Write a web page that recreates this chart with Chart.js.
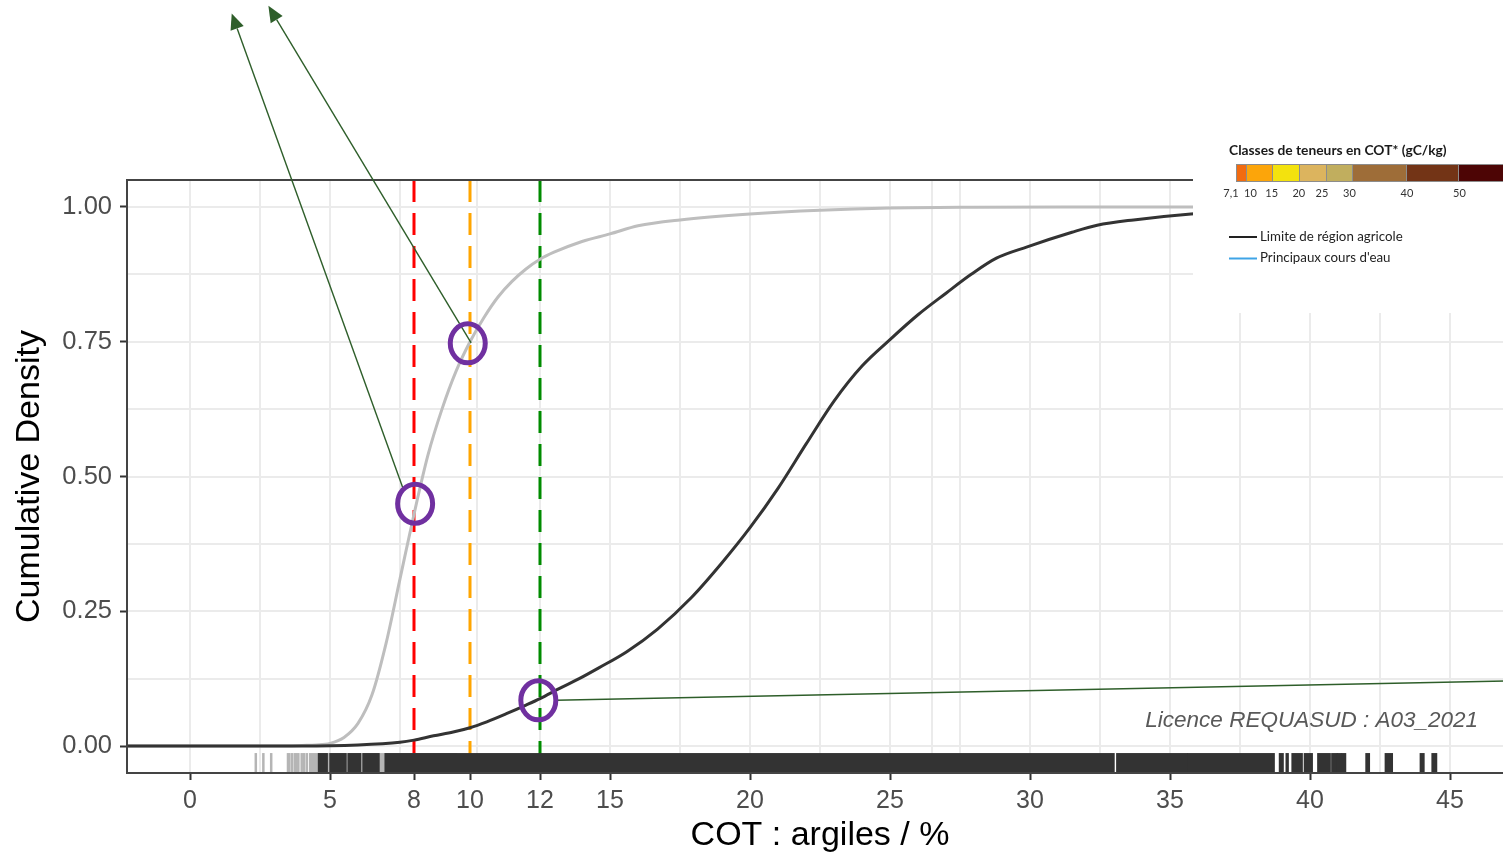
<!DOCTYPE html>
<html>
<head>
<meta charset="utf-8">
<title>COT : argiles / %</title>
<script src="https://cdn.jsdelivr.net/npm/chart.js@4.4.1/dist/chart.umd.min.js"></script>
<style>
  html, body { margin: 0; padding: 0; overflow: hidden; background: #fff; }
  #wrap { position: relative; width: 1530px; height: 858px; }
</style>
</head>
<body>
<div id="wrap"><canvas id="myChart"></canvas></div>
<script>
// axes
const xTickValues = [0, 5, 8, 10, 12.5, 15, 20, 25, 30, 35, 40, 45];
const xTickLabels = ['0', '5', '8', '10', '12', '15', '20', '25', '30', '35', '40', '45'];
const yTickValues = [0, 0.25, 0.5, 0.75, 1];
const yTickLabels = ['0.00', '0.25', '0.50', '0.75', '1.00'];
const gridX = [0, 2.5, 5, 7.5, 10.25, 12.5, 15, 17.5, 20, 22.5, 25, 26.5, 27.5, 30, 32.5, 35, 37.5, 40, 42.5, 45];
const gridY = [0, 0.125, 0.25, 0.375, 0.5, 0.625, 0.75, 0.875, 1];

// ecdf, light grey series
const greyX = [-2.25, 3.5, 4.0, 4.5, 5.0, 5.5, 6.0, 6.5, 7.0, 7.5, 8.0, 8.5, 9.0, 9.5, 10.0, 10.5, 11.0, 11.5, 12.0, 12.5, 13.0, 14.0, 15.0, 16.0, 17.5, 20.0, 22.5, 25.0, 28.0, 32.0, 47.25];
const greyY = [0, 0, 0.001, 0.002, 0.005, 0.016, 0.042, 0.095, 0.19, 0.31, 0.43, 0.54, 0.625, 0.695, 0.75, 0.795, 0.833, 0.862, 0.885, 0.903, 0.916, 0.936, 0.95, 0.965, 0.976, 0.987, 0.994, 0.998, 0.9995, 1, 1];

// ecdf, dark series
const blackX = [-2.25, 4.0, 6.0, 7.5, 8.0, 8.7, 9.4, 10.0, 10.6, 11.3, 12.0, 12.5, 13.2, 13.9, 14.6, 15.6, 16.7, 17.9, 19.0, 20.0, 21.0, 22.0, 23.0, 24.0, 25.0, 26.0, 27.0, 27.9, 28.8, 29.9, 31.5, 32.4, 33.7, 35.75, 38.0, 40.0, 44.5, 47.25];
const blackY = [0, 0, 0.002, 0.007, 0.011, 0.019, 0.026, 0.034, 0.045, 0.06, 0.076, 0.088, 0.107, 0.125, 0.145, 0.175, 0.217, 0.275, 0.34, 0.405, 0.478, 0.56, 0.64, 0.705, 0.754, 0.8, 0.84, 0.875, 0.905, 0.926, 0.953, 0.966, 0.976, 0.987, 0.994, 0.997, 1, 1];

// vertical thresholds (green one sits at 12.5 on the picture, labelled 12)
const thresholdX = [8, 10, 12.5];
const thresholdColors = ['#FF0000', '#FFA500', '#008B00'];

// rug, as [from, to] runs of observations
const rugGreySpans = [[2.35, 2.35], [2.62, 2.62], [2.9, 2.9], [3.5, 3.55], [3.65, 3.65], [3.75, 3.8], [3.87, 3.87], [3.99, 3.99], [4.07, 4.07], [4.17, 4.17], [4.29, 9.5]];
const rugBlackSpans = [[4.61, 4.88], [5.02, 5.55], [5.67, 6.07], [6.2, 6.73], [6.99, 32.98], [33.12, 35.6], [35.66, 38.7], [38.93, 39.02], [39.17, 39.2], [39.38, 39.7], [39.82, 40.06], [40.3, 40.7], [40.8, 40.95], [41.0, 41.1], [41.17, 41.25], [42.02, 42.1], [42.71, 42.92], [43.96, 44.05], [44.38, 44.5]];

// annotations
const circleX = [9.92, 8.04, 12.44];
const circleY = [0.747, 0.4495, 0.0848];
const arrowFromX = [7.6, 10.04, 13.07];
const arrowFromY = [0.479, 0.748, 0.085];
const arrowToX = [1.49, 2.8, 47.86];
const arrowToY = [1.359, 1.373, 0.1215];
const arrowHead = [true, true, false];

const legendBreaks = ['7,1', '10', '15', '20', '25', '30', '40', '50'];
const legendColors = ['#F26B10', '#FCA50A', '#F3E20E', '#DCB45E', '#C1AE5E', '#9E6D38', '#733416', '#4D0505'];

const RUG_TOP = -0.013;

Chart.defaults.font.family = "'Liberation Sans', Arial, sans-serif";

const toXY = (xs, ys) => xs.map((v, i) => ({ x: v, y: ys[i] }));

const datasets = [
  {
    label: 'dark',
    data: toXY(blackX, blackY),
    borderColor: '#333333',
    borderWidth: 3,
    pointRadius: 0,
    cubicInterpolationMode: 'monotone',
    order: 1
  },
  {
    label: 'grey',
    data: toXY(greyX, greyY),
    borderColor: '#BEBEBE',
    borderWidth: 3,
    pointRadius: 0,
    cubicInterpolationMode: 'monotone',
    order: 2
  }
];
thresholdX.forEach((v, i) => {
  datasets.push({
    label: 'seuil ' + v,
    data: [{ x: v, y: 1.05 }, { x: v, y: -0.05 }],
    borderColor: thresholdColors[i],
    borderWidth: 3,
    borderDash: [22, 11],
    pointRadius: 0,
    order: 3
  });
});

const overlay = {
  id: 'overlay',
  afterDatasetsDraw(chart) {
    const ctx = chart.ctx;
    const xs = chart.scales.x;
    const ys = chart.scales.y;
    const area = chart.chartArea;
    const top = ys.getPixelForValue(RUG_TOP);
    ctx.save();
    const drawRug = (spans, color) => {
      ctx.fillStyle = color;
      spans.forEach(s => {
        const a = xs.getPixelForValue(s[0]);
        const b = xs.getPixelForValue(s[1]);
        ctx.fillRect(a - 1.25, top, b - a + 2.5, area.bottom - top);
      });
    };
    drawRug(rugGreySpans, '#B5B5B5');
    drawRug(rugBlackSpans, '#333333');
    // panel border
    ctx.strokeStyle = '#444444';
    ctx.lineWidth = 2;
    ctx.strokeRect(area.left, area.top, area.right - area.left, area.bottom - area.top);
    ctx.restore();
  },
  afterDraw(chart) {
    const ctx = chart.ctx;
    const xs = chart.scales.x;
    const ys = chart.scales.y;
    ctx.save();

    // licence
    ctx.font = "italic 22.5px 'Liberation Sans', Arial, sans-serif";
    ctx.fillStyle = '#595959';
    ctx.textAlign = 'right';
    ctx.textBaseline = 'alphabetic';
    ctx.fillText('Licence REQUASUD : A03_2021', xs.getPixelForValue(46.0), ys.getPixelForValue(0.035));

    // arrows
    ctx.strokeStyle = '#2E5E2A';
    ctx.fillStyle = '#2E5E2A';
    ctx.lineWidth = 1.4;
    arrowFromX.forEach((v, i) => {
      const x0 = xs.getPixelForValue(v), y0 = ys.getPixelForValue(arrowFromY[i]);
      const x1 = xs.getPixelForValue(arrowToX[i]), y1 = ys.getPixelForValue(arrowToY[i]);
      const len = Math.hypot(x1 - x0, y1 - y0);
      const ux = (x1 - x0) / len, uy = (y1 - y0) / len;
      const head = arrowHead[i] ? 16 : 0;
      ctx.beginPath();
      ctx.moveTo(x0, y0);
      ctx.lineTo(x1 - ux * head, y1 - uy * head);
      ctx.stroke();
      if (arrowHead[i]) {
        const bx = x1 - ux * head, by = y1 - uy * head;
        ctx.beginPath();
        ctx.moveTo(x1, y1);
        ctx.lineTo(bx - uy * 7, by + ux * 7);
        ctx.lineTo(bx + uy * 7, by - ux * 7);
        ctx.closePath();
        ctx.fill();
      }
    });

    // circles
    ctx.strokeStyle = '#7030A0';
    ctx.lineWidth = 5;
    circleX.forEach((v, i) => {
      ctx.beginPath();
      ctx.ellipse(xs.getPixelForValue(v), ys.getPixelForValue(circleY[i]), 17.5, 19.5, 0, 0, Math.PI * 2);
      ctx.stroke();
    });

    // pasted map legend
    ctx.fillStyle = '#FFFFFF';
    ctx.fillRect(1193, 126, 340, 187);
    ctx.textAlign = 'left';
    ctx.fillStyle = '#1A1A1A';
    ctx.font = "bold 13.8px Lato, 'Open Sans', sans-serif";
    ctx.fillText('Classes de teneurs en COT* (gC/kg)', 1229, 155);
    const edges = [1236, 1246, 1272, 1299, 1326, 1352, 1406, 1458, 1540];
    legendColors.forEach((c, i) => {
      ctx.fillStyle = c;
      ctx.fillRect(edges[i], 164, edges[i + 1] - edges[i], 17);
      ctx.strokeStyle = '#8C8C8C';
      ctx.lineWidth = 1;
      ctx.strokeRect(edges[i] + 0.5, 164.5, edges[i + 1] - edges[i], 17);
    });
    const labelX = [1231, 1250.5, 1271.7, 1298.8, 1322, 1349.5, 1407, 1459.5];
    ctx.fillStyle = '#333333';
    ctx.font = "11px Lato, 'Open Sans', sans-serif";
    ctx.textAlign = 'center';
    legendBreaks.forEach((b, i) => ctx.fillText(b, labelX[i], 197));
    ctx.textAlign = 'left';
    ctx.font = "13.3px Lato, 'Open Sans', sans-serif";
    ctx.lineWidth = 2;
    ctx.strokeStyle = '#222222';
    ctx.beginPath(); ctx.moveTo(1229, 237); ctx.lineTo(1257, 237); ctx.stroke();
    ctx.fillStyle = '#222222';
    ctx.fillText('Limite de région agricole', 1260, 241);
    ctx.strokeStyle = '#3FA4E6';
    ctx.beginPath(); ctx.moveTo(1229, 258.5); ctx.lineTo(1257, 258.5); ctx.stroke();
    ctx.fillText("Principaux cours d'eau", 1260, 262);
    ctx.restore();
  }
};

const config = {
  type: 'line',
  data: { datasets: datasets },
  options: {
    responsive: true,
    maintainAspectRatio: false,
    animation: false,
    layout: { padding: { top: 180, right: 17, left: 0, bottom: 0 } },
    plugins: { legend: { display: false }, tooltip: { enabled: false } },
    scales: {
      x: {
        type: 'linear',
        min: -2.25,
        max: 47.25,
        afterBuildTicks: s => { s.ticks = xTickValues.map(v => ({ value: v })); },
        afterFit: s => { s.height = 85; },
        ticks: {
          autoSkip: false,
          maxRotation: 0,
          padding: 6,
          color: '#4D4D4D',
          font: { size: 25 },
          callback: (v, i) => xTickLabels[i]
        },
        grid: { drawOnChartArea: false, tickLength: 7, tickColor: '#333333', tickWidth: 2 },
        border: { display: false },
        title: {
          display: true,
          text: 'COT : argiles / %',
          color: '#000000',
          font: { size: 34 },
          padding: { top: 0, bottom: 2 }
        }
      },
      y: {
        type: 'linear',
        min: -0.05,
        max: 1.05,
        afterBuildTicks: s => { s.ticks = yTickValues.map(v => ({ value: v })); },
        afterFit: s => { s.width = 127; },
        ticks: {
          padding: 8,
          color: '#4D4D4D',
          font: { size: 25.5 },
          callback: (v, i) => yTickLabels[i]
        },
        grid: { drawOnChartArea: false, tickLength: 7, tickColor: '#333333', tickWidth: 2 },
        border: { display: false },
        title: {
          display: true,
          text: 'Cumulative Density',
          color: '#000000',
          font: { size: 34 },
          padding: { top: 9, bottom: 0 }
        }
      },
      xg: {
        type: 'linear',
        position: 'top',
        min: -2.25,
        max: 47.25,
        afterBuildTicks: s => { s.ticks = gridX.map(v => ({ value: v })); },
        afterFit: s => { s.height = 0; },
        ticks: { display: false },
        grid: { color: '#EBEBEB', lineWidth: 2, drawTicks: false },
        border: { display: false }
      },
      yg: {
        type: 'linear',
        position: 'right',
        min: -0.05,
        max: 1.05,
        afterBuildTicks: s => { s.ticks = gridY.map(v => ({ value: v })); },
        afterFit: s => { s.width = 0; },
        ticks: { display: false },
        grid: { color: '#EBEBEB', lineWidth: 2, drawTicks: false },
        border: { display: false }
      }
    }
  },
  plugins: [overlay]
};

let myChart = new Chart(document.querySelector('#myChart'), config);
</script>
</body>
</html>
